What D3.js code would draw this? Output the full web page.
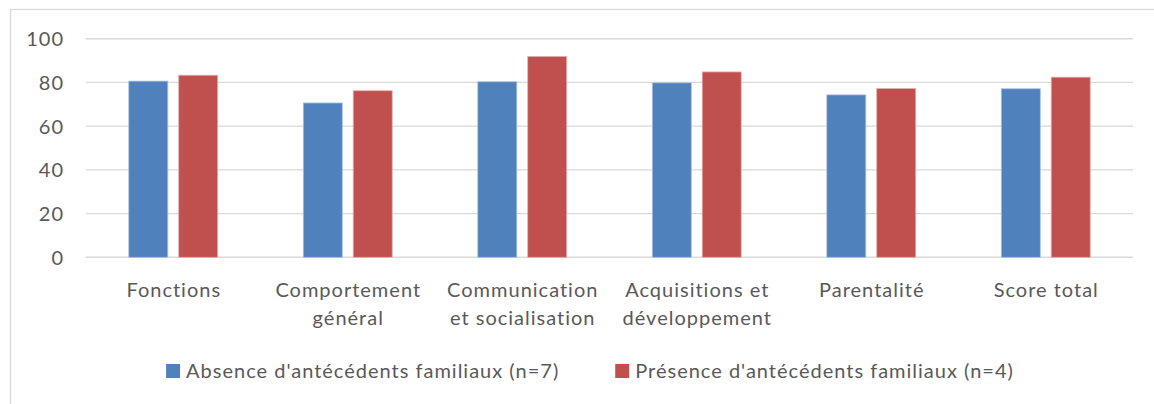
<!DOCTYPE html>
<html>
<head>
<meta charset="utf-8">
<script src="https://cdn.jsdelivr.net/npm/d3@7"></script>
<style>
  html, body { margin: 0; padding: 0; background: #fff; }
  svg { display: block; }
  text { font-family: Lato, "Open Sans", sans-serif; fill: #595959; letter-spacing: 1px; }
</style>
</head>
<body>
<svg id="chart" width="1154" height="404"></svg>
<script>
const categories = [
  ["Fonctions"],
  ["Comportement", "général"],
  ["Communication", "et socialisation"],
  ["Acquisitions et", "développement"],
  ["Parentalité"],
  ["Score total"]
];
const seriesNames = [
  "Absence d'antécédents familiaux (n=7)",
  "Présence d'antécédents familiaux (n=4)"
];
const absenceValues = [80.6, 70.6, 80.3, 79.8, 74.3, 77.1];
const presenceValues = [83.3, 76.2, 91.9, 84.8, 77.2, 82.4];
const yTicks = [0, 20, 40, 60, 80, 100];
const colors = ["#4f81bd", "#c0504d"];

const svg = d3.select("#chart");
const W = 1154, H = 404;
const plot = { left: 86, right: 1133, top: 38.7, bottom: 257.3 };
const fontSize = 20;

// Outer chart border
svg.append("rect")
  .attr("x", 10.5).attr("y", 9.5)
  .attr("width", W + 20).attr("height", H + 20)
  .attr("fill", "none").attr("stroke", "#d9d9d9").attr("stroke-width", 1.3);

const catKeys = categories.map(c => c.join(" "));
const x = d3.scaleBand().domain(catKeys).range([plot.left, plot.right]).paddingInner(0).paddingOuter(0);
const y = d3.scaleLinear().domain([0, 100]).range([plot.bottom, plot.top]);

// Gridlines
svg.append("g").selectAll("line").data(yTicks).join("line")
  .attr("x1", plot.left).attr("x2", plot.right)
  .attr("y1", d => y(d)).attr("y2", d => y(d))
  .attr("stroke", "#d9d9d9").attr("stroke-width", 1.4);

// Y axis labels
const yAxis = d3.axisLeft(y).tickValues(yTicks).tickSize(0).tickPadding(0).tickFormat(d3.format("d"));
const yg = svg.append("g").attr("transform", `translate(${plot.left - 22},0)`).call(yAxis);
yg.select(".domain").remove();
yg.selectAll("text").attr("font-size", fontSize).attr("fill", "#595959")
  .style("font-family", "Lato, 'Open Sans', sans-serif").attr("dy", "0.35em");

// Bars
const bw = x.bandwidth() * 0.2235;
const gap = bw * 0.28;
const seriesData = [absenceValues, presenceValues];
seriesData.forEach((vals, si) => {
  svg.append("g").selectAll("rect").data(vals).join("rect")
    .attr("x", (d, i) => x(catKeys[i]) + x.bandwidth() / 2 - gap / 2 - bw + si * (bw + gap))
    .attr("y", d => y(d))
    .attr("width", bw)
    .attr("height", d => y(0) - y(d))
    .attr("fill", colors[si])
    .attr("stroke", si === 0 ? "#a9c1e0" : "#e3b0ae")
    .attr("stroke-width", 0.8);
});

// Category labels
const xg = svg.append("g");
categories.forEach((lines, i) => {
  const cxp = x(catKeys[i]) + x.bandwidth() / 2 + 0.5;
  const t = xg.append("text")
    .attr("x", cxp)
    .attr("y", 297)
    .attr("text-anchor", "middle")
    .attr("font-size", fontSize);
  lines.forEach((ln, j) => {
    t.append("tspan").attr("x", cxp)
      .attr("dy", j === 0 ? 0 : 27.5).text(ln);
  });
});

// Legend
const legend = svg.append("g");
const items = seriesNames.map((name, i) => {
  const g = legend.append("g");
  g.append("rect").attr("width", 14).attr("height", 14).attr("y", 364).attr("fill", colors[i]);
  const t = g.append("text").attr("x", 20).attr("y", 378).attr("font-size", fontSize).text(name);
  return { g, w: 20 + t.node().getComputedTextLength() };
});
const itemGap = 56;
const total = items.reduce((s, it) => s + it.w, 0) + itemGap * (items.length - 1);
let cx = 590 - total / 2;
items.forEach(it => { it.g.attr("transform", `translate(${cx},0)`); cx += it.w + itemGap; });
</script>
</body>
</html>
